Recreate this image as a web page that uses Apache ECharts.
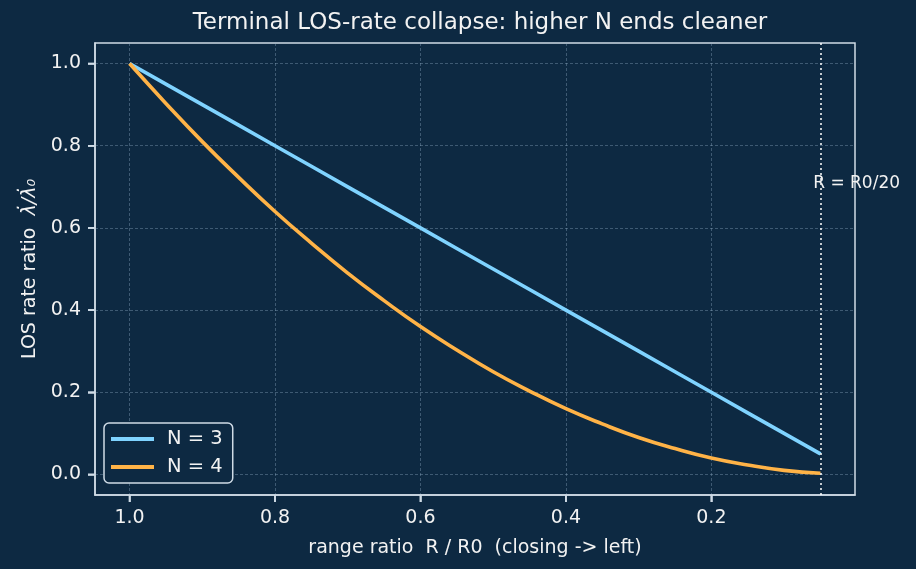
<!DOCTYPE html>
<html>
<head>
<meta charset="utf-8">
<script src="https://cdn.jsdelivr.net/npm/echarts@6/dist/echarts.min.js"></script>
<style>
  html, body { margin: 0; padding: 0; background: #0d2942; }
  #chart { width: 916px; height: 569px; }
</style>
</head>
<body>
<div id="chart"></div>
<script>
// values
const rangeRatio = [1.00, 0.95, 0.90, 0.85, 0.80, 0.75, 0.70, 0.65, 0.60, 0.55, 0.50, 0.45, 0.40, 0.35, 0.30, 0.25, 0.20, 0.15, 0.10, 0.05];
const losRateN3 = [1.00, 0.95, 0.90, 0.85, 0.80, 0.75, 0.70, 0.65, 0.60, 0.55, 0.50, 0.45, 0.40, 0.35, 0.30, 0.25, 0.20, 0.15, 0.10, 0.05];
const losRateN4 = [1.00, 0.903, 0.81, 0.723, 0.64, 0.563, 0.49, 0.423, 0.36, 0.303, 0.25, 0.203, 0.16, 0.123, 0.09, 0.063, 0.04, 0.023, 0.01, 0.003];
const xTicks = [0.2, 0.4, 0.6, 0.8, 1.0];
const yTicks = [0.0, 0.2, 0.4, 0.6, 0.8, 1.0];
const cutoffRatio = 0.05; // R = R0/20
const seriesNames = ["N = 3", "N = 4"];

const X_MIN = 0.0025, X_MAX = 1.0475;
const Y_MIN = -0.05, Y_MAX = 1.05;

const FONT = "DejaVu Sans";
const TEXT = "#f2f2f2";
const SPINE = "#cfdbe6";
const BG = "#0d2942";

const chart = echarts.init(document.getElementById("chart"));

const pairs = (ys) => rangeRatio.map((x, i) => [x, ys[i]]);

const axisCommon = {
  type: "value",
  axisLine: { show: true, onZero: false, lineStyle: { color: SPINE, width: 1.5 } },
  axisTick: { show: true, inside: false, length: 7, lineStyle: { color: SPINE, width: 1.5 } },
  axisLabel: { color: TEXT, fontFamily: FONT, fontSize: 19, formatter: (v) => v.toFixed(1) },
  splitLine: { show: true, lineStyle: { color: "rgba(150,180,205,0.45)", type: [3, 2], width: 0.8 } },
  nameTextStyle: { color: TEXT, fontFamily: FONT, fontSize: 19 },
};

// tick marks: short strokes just outside the axes, placed through the axis scales
const tickSeries = (data, dx, dy) => ({
  type: "custom",
  data: data,
  silent: true,
  clip: false,
  z: 5,
  renderItem: (params, api) => {
    const p = api.coord([api.value(0), api.value(1)]);
    return {
      type: "line",
      shape: { x1: p[0], y1: p[1], x2: p[0] + dx, y2: p[1] + dy },
      style: { stroke: SPINE, lineWidth: 1.5 },
    };
  },
});

chart.setOption({
  backgroundColor: BG,
  animation: false,
  title: {
    text: "Terminal LOS-rate collapse: higher N ends cleaner",
    left: 475,
    textAlign: "center",
    top: 7,
    textStyle: { color: TEXT, fontFamily: FONT, fontSize: 23, fontWeight: "normal" },
  },
  legend: {
    data: seriesNames,
    orient: "vertical",
    left: 104,
    top: 423,
    backgroundColor: BG,
    borderColor: SPINE,
    borderWidth: 1.5,
    borderRadius: 5,
    padding: [6, 10, 6, 7],
    itemWidth: 43,
    itemHeight: 4,
    itemGap: 8,
    icon: "rect",
    textStyle: { color: TEXT, fontFamily: FONT, fontSize: 19.5, padding: [0, 0, 0, 8] },
  },
  grid: {
    left: 95,
    right: 61,
    top: 43,
    bottom: 74,
    show: true,
    borderColor: SPINE,
    borderWidth: 1.5,
    backgroundColor: "transparent",
  },
  xAxis: Object.assign({}, axisCommon, {
    inverse: true,
    min: X_MIN,
    max: X_MAX,
    name: "range ratio  R / R0  (closing -> left)",
    nameLocation: "middle",
    nameGap: 44,
    axisTick: Object.assign({}, axisCommon.axisTick, { customValues: xTicks }),
    axisLabel: Object.assign({}, axisCommon.axisLabel, { customValues: xTicks, margin: 14 }),
  }),
  yAxis: Object.assign({}, axisCommon, {
    min: Y_MIN,
    max: Y_MAX,
    name: "{a|LOS rate ratio  }{b|λ̇/λ̇₀}",
    nameLocation: "middle",
    nameGap: 52,
    nameTextStyle: {
      color: TEXT,
      fontFamily: FONT,
      fontSize: 19,
      rich: {
        a: { color: TEXT, fontFamily: FONT, fontSize: 19 },
        b: { color: TEXT, fontFamily: FONT, fontSize: 19, fontStyle: "italic" },
      },
    },
    axisTick: Object.assign({}, axisCommon.axisTick, { customValues: yTicks }),
    axisLabel: Object.assign({}, axisCommon.axisLabel, { customValues: yTicks, margin: 14 }),
  }),
  series: [
    tickSeries(xTicks.map((v) => [v, Y_MIN]), 0, 7),
    tickSeries(yTicks.map((v) => [X_MAX, v]), -7, 0),
    {
      name: seriesNames[0],
      type: "line",
      data: pairs(losRateN3),
      showSymbol: false,
      lineStyle: { color: "#7fd3ff", width: 3.6 },
      itemStyle: { color: "#7fd3ff" },
      z: 3,
      markLine: {
        silent: true,
        symbol: "none",
        label: { show: false },
        lineStyle: { color: "#ffffff", type: [2, 3], width: 1.5 },
        data: [{ xAxis: cutoffRatio }],
      },
    },
    {
      name: seriesNames[1],
      type: "line",
      data: pairs(losRateN4),
      smooth: true,
      showSymbol: false,
      lineStyle: { color: "#ffb347", width: 3.6 },
      itemStyle: { color: "#ffb347" },
      z: 3,
      markPoint: {
        silent: true,
        symbol: "circle",
        symbolSize: 0,
        label: {
          show: true,
          position: "right",
          distance: 0,
          offset: [0, -3],
          formatter: "R = R0/20",
          color: TEXT,
          fontFamily: FONT,
          fontSize: 17,
        },
        data: [{ coord: [0.06, 0.7] }],
      },
    },
  ],
});

// same tick marks again as graphic lines, positions from the chart's own scales
const toPx = (pt) => chart.convertToPixel({ gridIndex: 0 }, pt);
const tickLine = (x1, y1, x2, y2) => ({
  type: "line",
  silent: true,
  z: 10,
  shape: { x1: x1, y1: y1, x2: x2, y2: y2 },
  style: { stroke: SPINE, lineWidth: 1.5 },
});
const ticks = [];
xTicks.forEach((v) => {
  const p = toPx([v, Y_MIN]);
  if (p) ticks.push(tickLine(p[0], p[1], p[0], p[1] + 7));
});
yTicks.forEach((v) => {
  const p = toPx([X_MAX, v]);
  if (p) ticks.push(tickLine(p[0], p[1], p[0] - 7, p[1]));
});
chart.setOption({ graphic: ticks });
</script>
</body>
</html>
